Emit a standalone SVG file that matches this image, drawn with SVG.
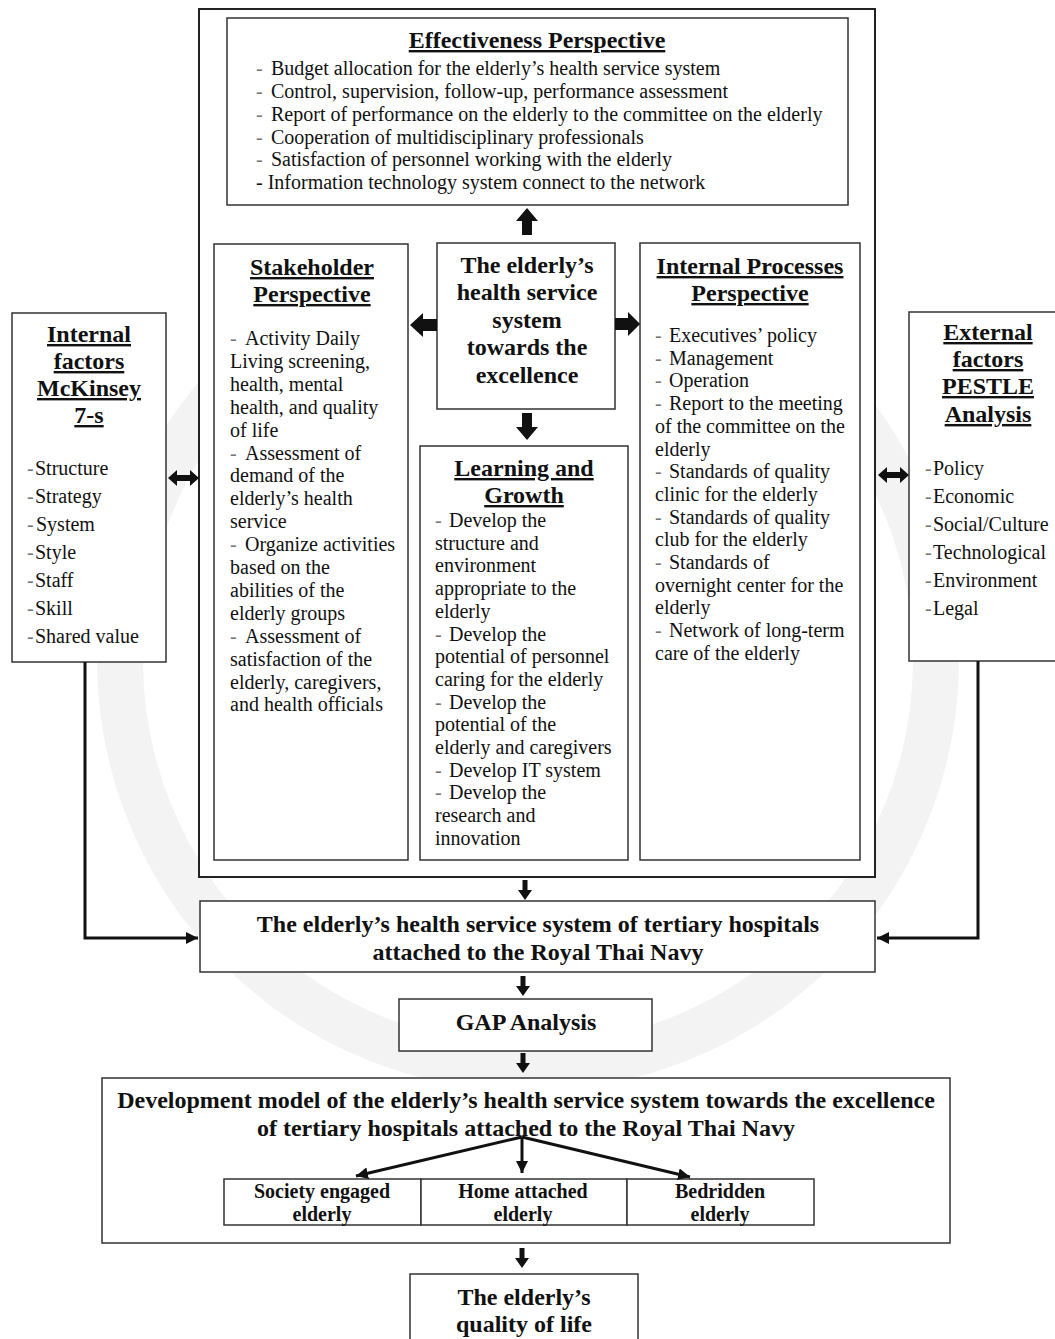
<svg xmlns="http://www.w3.org/2000/svg" width="1055" height="1339" viewBox="0 0 1055 1339">
  <style>
    .box { fill: #fff; stroke: #333; stroke-width: 1.5; }
    .outer { fill: #fff; stroke: #222; stroke-width: 2; }
    text { font-family: "Liberation Serif", "Times New Roman", serif; fill: #111; }
    .it { font-size: 20px; }
    .hd { font-size: 24px; font-weight: bold; text-anchor: middle; text-decoration: underline; }
    .bc { font-size: 24px; font-weight: bold; text-anchor: middle; }
    .sb { font-size: 20px; font-weight: bold; text-anchor: middle; }
    .d { fill: #777; }
    .ln { fill: none; stroke: #111; stroke-width: 3; }
    .ar { fill: #111; }
  </style>
  <defs>
    <!-- block arrow pointing down, tail at origin -->
    <path id="blk" d="M-5,0 H5 V14 H11 L0,27 L-11,14 H-5 Z"/>
    <path id="blkH" d="M-6,0 H6 V14 H12 L0,27 L-12,14 H-6 Z"/>
    <!-- small block arrow pointing down -->
    <path id="sml" d="M-2.5,0 H2.5 V10 H7 L0,20 L-7,10 H-2.5 Z"/>
    <!-- double-headed horizontal arrow -->
    <path id="dbl" d="M0,0 L9,-8 V-3 H22 V-8 L31,0 L22,8 V3 H9 V8 Z"/>
    <marker id="head" viewBox="0 0 12 12" refX="12" refY="6" markerWidth="12" markerHeight="12" markerUnits="userSpaceOnUse" orient="auto">
      <path d="M0,0 L12,6 L0,12 Z" fill="#111"/>
    </marker>
  </defs>

  <rect width="1055" height="1339" fill="#fff"/>
  <!-- faint background seal ring -->
  <circle cx="528" cy="660" r="408" fill="none" stroke="#f3f3f3" stroke-width="46"/>

  <!-- outer frame around the perspectives -->
  <g id="frame">
    <rect class="outer" x="199" y="9" width="676" height="868"/>
  </g>

  <g id="effectiveness">
    <rect class="box" x="227" y="18" width="621" height="187"/>
    <text class="hd" x="537" y="48">Effectiveness Perspective</text>
    <text class="it" x="256" y="75"><tspan class="d">-</tspan><tspan x="271">Budget allocation for the elderly’s health service system</tspan></text>
    <text class="it" x="256" y="98"><tspan class="d">-</tspan><tspan x="271">Control, supervision, follow-up, performance assessment</tspan></text>
    <text class="it" x="256" y="121"><tspan class="d">-</tspan><tspan x="271">Report of performance on the elderly to the committee on the elderly</tspan></text>
    <text class="it" x="256" y="143.5"><tspan class="d">-</tspan><tspan x="271">Cooperation of multidisciplinary professionals</tspan></text>
    <text class="it" x="256" y="166"><tspan class="d">-</tspan><tspan x="271">Satisfaction of personnel working with the elderly</tspan></text>
    <text class="it" x="256" y="189">- Information technology system connect to the network</text>
  </g>

  <g id="stakeholder">
    <rect class="box" x="214" y="244" width="194" height="616"/>
    <text class="hd" x="312" y="275">Stakeholder</text>
    <text class="hd" x="312" y="302">Perspective</text>
    <text class="it" x="230" y="345"><tspan class="d">-</tspan><tspan x="245">Activity Daily</tspan></text>
    <text class="it" x="230" y="367.9">Living screening,</text>
    <text class="it" x="230" y="390.8">health, mental</text>
    <text class="it" x="230" y="413.7">health, and quality</text>
    <text class="it" x="230" y="436.6">of life</text>
    <text class="it" x="230" y="459.5"><tspan class="d">-</tspan><tspan x="245">Assessment of</tspan></text>
    <text class="it" x="230" y="482.4">demand of the</text>
    <text class="it" x="230" y="505.3">elderly’s health</text>
    <text class="it" x="230" y="528.2">service</text>
    <text class="it" x="230" y="551.1"><tspan class="d">-</tspan><tspan x="245">Organize activities</tspan></text>
    <text class="it" x="230" y="574">based on the</text>
    <text class="it" x="230" y="596.9">abilities of the</text>
    <text class="it" x="230" y="619.8">elderly groups</text>
    <text class="it" x="230" y="642.7"><tspan class="d">-</tspan><tspan x="245">Assessment of</tspan></text>
    <text class="it" x="230" y="665.6">satisfaction of the</text>
    <text class="it" x="230" y="688.5">elderly, caregivers,</text>
    <text class="it" x="230" y="711.4">and health officials</text>
  </g>

  <g id="core">
    <rect class="box" x="437" y="243" width="178" height="166"/>
    <text class="bc" x="527" y="273">The elderly’s</text>
    <text class="bc" x="527" y="300">health service</text>
    <text class="bc" x="527" y="328">system</text>
    <text class="bc" x="527" y="355">towards the</text>
    <text class="bc" x="527" y="383">excellence</text>
  </g>

  <g id="internal-processes">
    <rect class="box" x="640" y="243" width="220" height="617"/>
    <text class="hd" x="750" y="274">Internal Processes</text>
    <text class="hd" x="750" y="301">Perspective</text>
    <text class="it" x="655" y="342"><tspan class="d">-</tspan><tspan x="669">Executives’ policy</tspan></text>
    <text class="it" x="655" y="364.7"><tspan class="d">-</tspan><tspan x="669">Management</tspan></text>
    <text class="it" x="655" y="387.4"><tspan class="d">-</tspan><tspan x="669">Operation</tspan></text>
    <text class="it" x="655" y="410.1"><tspan class="d">-</tspan><tspan x="669">Report to the meeting</tspan></text>
    <text class="it" x="655" y="432.8">of the committee on the</text>
    <text class="it" x="655" y="455.5">elderly</text>
    <text class="it" x="655" y="478.2"><tspan class="d">-</tspan><tspan x="669">Standards of quality</tspan></text>
    <text class="it" x="655" y="500.9">clinic for the elderly</text>
    <text class="it" x="655" y="523.6"><tspan class="d">-</tspan><tspan x="669">Standards of quality</tspan></text>
    <text class="it" x="655" y="546.3">club for the elderly</text>
    <text class="it" x="655" y="569"><tspan class="d">-</tspan><tspan x="669">Standards of</tspan></text>
    <text class="it" x="655" y="591.7">overnight center for the</text>
    <text class="it" x="655" y="614.4">elderly</text>
    <text class="it" x="655" y="637.1"><tspan class="d">-</tspan><tspan x="669">Network of long-term</tspan></text>
    <text class="it" x="655" y="659.8">care of the elderly</text>
  </g>

  <g id="learning">
    <rect class="box" x="420" y="446" width="208" height="414"/>
    <text class="hd" x="524" y="476">Learning and</text>
    <text class="hd" x="524" y="503">Growth</text>
    <text class="it" x="435" y="527"><tspan class="d">-</tspan><tspan x="449">Develop the</tspan></text>
    <text class="it" x="435" y="549.7">structure and</text>
    <text class="it" x="435" y="572.4">environment</text>
    <text class="it" x="435" y="595.1">appropriate to the</text>
    <text class="it" x="435" y="617.8">elderly</text>
    <text class="it" x="435" y="640.5"><tspan class="d">-</tspan><tspan x="449">Develop the</tspan></text>
    <text class="it" x="435" y="663.2">potential of personnel</text>
    <text class="it" x="435" y="685.9">caring for the elderly</text>
    <text class="it" x="435" y="708.6"><tspan class="d">-</tspan><tspan x="449">Develop the</tspan></text>
    <text class="it" x="435" y="731.3">potential of the</text>
    <text class="it" x="435" y="754">elderly and caregivers</text>
    <text class="it" x="435" y="776.7"><tspan class="d">-</tspan><tspan x="449">Develop IT system</tspan></text>
    <text class="it" x="435" y="799.4"><tspan class="d">-</tspan><tspan x="449">Develop the</tspan></text>
    <text class="it" x="435" y="822.1">research and</text>
    <text class="it" x="435" y="844.8">innovation</text>
  </g>

  <g id="internal-factors">
    <rect class="box" x="12" y="313" width="154" height="349"/>
    <text class="hd" x="89" y="342">Internal</text>
    <text class="hd" x="89" y="369">factors</text>
    <text class="hd" x="89" y="396">McKinsey</text>
    <text class="hd" x="89" y="423">7-s</text>
    <text class="it" x="27" y="475"><tspan class="d">-</tspan><tspan x="35">Structure</tspan></text>
    <text class="it" x="27" y="503"><tspan class="d">-</tspan><tspan x="35">Strategy</tspan></text>
    <text class="it" x="27" y="531"><tspan class="d">-</tspan><tspan x="36">System</tspan></text>
    <text class="it" x="27" y="559"><tspan class="d">-</tspan><tspan x="35">Style</tspan></text>
    <text class="it" x="27" y="587"><tspan class="d">-</tspan><tspan x="35">Staff</tspan></text>
    <text class="it" x="27" y="615"><tspan class="d">-</tspan><tspan x="35">Skill</tspan></text>
    <text class="it" x="27" y="643"><tspan class="d">-</tspan><tspan x="35">Shared value</tspan></text>
  </g>

  <g id="external-factors">
    <rect class="box" x="909" y="312" width="150" height="349"/>
    <text class="hd" x="988" y="340">External</text>
    <text class="hd" x="988" y="367">factors</text>
    <text class="hd" x="988" y="394">PESTLE</text>
    <text class="hd" x="988" y="422">Analysis</text>
    <text class="it" x="925" y="475"><tspan class="d">-</tspan><tspan x="933">Policy</tspan></text>
    <text class="it" x="925" y="503"><tspan class="d">-</tspan><tspan x="933">Economic</tspan></text>
    <text class="it" x="925" y="531"><tspan class="d">-</tspan><tspan x="933">Social/Culture</tspan></text>
    <text class="it" x="925" y="559"><tspan class="d">-</tspan><tspan x="933">Technological</tspan></text>
    <text class="it" x="925" y="587"><tspan class="d">-</tspan><tspan x="933">Environment</tspan></text>
    <text class="it" x="925" y="615"><tspan class="d">-</tspan><tspan x="933">Legal</tspan></text>
  </g>

  <g id="tertiary-system">
    <rect class="box" x="200" y="901" width="675" height="71"/>
    <text class="bc" x="538" y="932">The elderly’s health service system of tertiary hospitals</text>
    <text class="bc" x="538" y="960">attached to the Royal Thai Navy</text>
  </g>

  <g id="gap-analysis">
    <rect class="box" x="399" y="999" width="253" height="52"/>
    <text class="bc" x="526" y="1030">GAP Analysis</text>
  </g>

  <g id="development-model">
    <rect class="box" x="102" y="1078" width="848" height="165"/>
    <text class="bc" x="526" y="1108">Development model of the elderly’s health service system towards the excellence</text>
    <text class="bc" x="526" y="1136">of tertiary hospitals attached to the Royal Thai Navy</text>
  </g>

  <g id="society-engaged">
    <rect class="box" x="224" y="1179" width="197" height="46"/>
    <text class="sb" x="322" y="1198">Society engaged</text>
    <text class="sb" x="322" y="1221">elderly</text>
  </g>
  <g id="home-attached">
    <rect class="box" x="421" y="1179" width="206" height="46"/>
    <text class="sb" x="523" y="1198">Home attached</text>
    <text class="sb" x="523" y="1221">elderly</text>
  </g>
  <g id="bedridden">
    <rect class="box" x="627" y="1179" width="187" height="46"/>
    <text class="sb" x="720" y="1198">Bedridden</text>
    <text class="sb" x="720" y="1221">elderly</text>
  </g>

  <g id="quality-of-life">
    <rect class="box" x="410" y="1274" width="228" height="75"/>
    <text class="bc" x="524" y="1305">The elderly’s</text>
    <text class="bc" x="524" y="1332">quality of life</text>
  </g>

  <g id="connectors">
    <!-- block arrows out of the core box -->
    <use href="#blk" class="ar" transform="translate(527,235) rotate(180)"/>
    <use href="#blkH" class="ar" transform="translate(437,325) rotate(90)"/>
    <use href="#blkH" class="ar" transform="translate(615,324) rotate(-90) scale(1,0.93)"/>
    <use href="#blk" class="ar" transform="translate(527,413)"/>
    <!-- two-way links between the factor boxes and the frame -->
    <use href="#dbl" class="ar" transform="translate(168,478)"/>
    <use href="#dbl" class="ar" transform="translate(878,475)"/>
    <!-- factor feeds into the tertiary system -->
    <path class="ln" d="M85,662 V938 H198" marker-end="url(#head)" />
    <path class="ln" d="M978,661 V938 H877" marker-end="url(#head)" />
    <!-- main flow -->
    <use href="#sml" class="ar" transform="translate(525,880)"/>
    <use href="#sml" class="ar" transform="translate(523,976)"/>
    <use href="#sml" class="ar" transform="translate(523,1053)"/>
    <use href="#sml" class="ar" transform="translate(522,1248)"/>
    <!-- branches to the three elderly groups -->
    <line class="ln" x1="522" y1="1137" x2="356" y2="1176" marker-end="url(#head)"/>
    <line class="ln" x1="522" y1="1137" x2="522" y2="1173" stroke-width="2" marker-end="url(#head)"/>
    <line class="ln" x1="522" y1="1137" x2="690" y2="1177" marker-end="url(#head)"/>
  </g>
</svg>
